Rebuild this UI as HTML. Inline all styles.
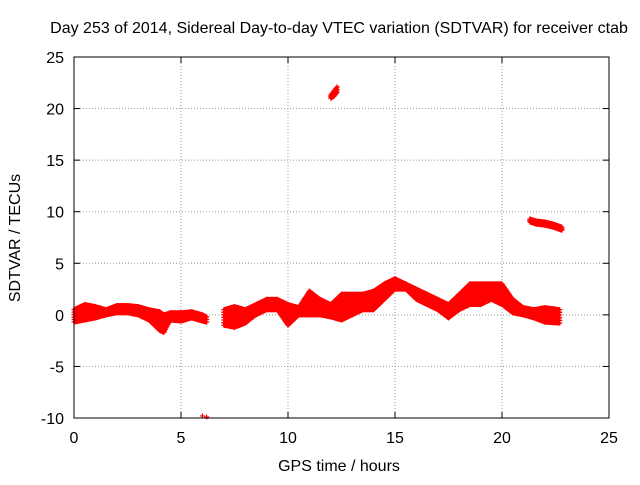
<!DOCTYPE html>
<html><head><meta charset="utf-8"><style>
body{margin:0;background:#fff}
svg text{font-family:"Liberation Sans",sans-serif;font-size:16px;fill:#000}
</style></head><body>
<svg id="c" width="640" height="480">
<rect width="640" height="480" fill="#fff"/>
<text x="339" y="33" text-anchor="middle">Day 253 of 2014, Sidereal Day-to-day VTEC variation (SDTVAR) for receiver ctab</text>
<text x="339" y="471" text-anchor="middle">GPS time / hours</text>
<text transform="translate(20,238) rotate(-90)" text-anchor="middle">SDTVAR / TECUs</text>
<g id="grid"></g><g id="ticks"></g><g id="marks"></g>
<rect x="74" y="57" width="535" height="361" fill="none" stroke="#000" stroke-width="1"/>
</svg>
<script>
const xTicks=[0,5,10,15,20,25];
const yTicks=[-10,-5,0,5,10,15,20,25];
const mainHours=[0,0.5,1,1.5,2,2.5,3,3.5,4,4.2,4.5,5,5.5,6,6.2];
const mainLows=[-0.7,-0.5,-0.3,0,0.2,0.2,0,-0.5,-1.5,-1.7,-0.5,-0.6,-0.3,-0.6,-0.7];
const mainHighs=[0.5,1.0,0.8,0.5,0.9,0.9,0.8,0.5,0.3,0,0.2,0.2,0.3,0,-0.2];
const midHours=[7,7.5,8,8.5,9,9.5,10,10.5,11,11.5,12,12.5,13,13.5,14,14.5,15,15.5,16,16.5,17,17.5,18,18.5,19,19.5,20,20.5,21,21.5,22,22.7];
const midLows=[-1,-1.2,-0.8,0,0.5,0.5,-1,0,0,0,-0.2,-0.5,0,0.5,0.5,1.5,2.5,2.5,1.5,1,0.5,-0.3,0.5,1,1,1.5,1,0.2,0,-0.3,-0.7,-0.8];
const midHighs=[0.5,0.8,0.5,1,1.5,1.5,1,0.7,2.3,1.5,1,2,2,2,2.3,3,3.5,3,2.5,2,1.5,1,2,3,3,3,3,1.5,0.7,0.5,0.7,0.5];
const hiHours=[12,12.15,12.3];
const hiLows=[21,21.2,21.6];
const hiHighs=[21.3,21.7,22.1];
const eveHours=[21.3,21.6,22,22.4,22.8];
const eveLows=[9,8.8,8.7,8.5,8.2];
const eveHighs=[9.3,9.1,9,8.8,8.5];
const outHours=[6.0,6.2];
const outVals=[-9.8,-9.9];
const X=v=>74+v*(535/25), Y=v=>418-(v+10)*(361/35);
const NS="http://www.w3.org/2000/svg";
const grid=document.getElementById('grid'),ticks=document.getElementById('ticks'),marks=document.getElementById('marks');
function el(t,a,p){const e=document.createElementNS(NS,t);for(const k in a)e.setAttribute(k,a[k]);p.appendChild(e);return e;}
xTicks.forEach(v=>{
 if(v>0&&v<25){const g=el('line',{x1:X(v),x2:X(v),y1:57,y2:418,stroke:'#999','stroke-dasharray':'1,2'},grid);
 
 }
 el('line',{x1:X(v),x2:X(v),y1:418,y2:412,stroke:'#000'},ticks);
 el('line',{x1:X(v),x2:X(v),y1:57,y2:63,stroke:'#000'},ticks);
 const t=el('text',{x:X(v),y:443,'text-anchor':'middle'},ticks);t.textContent=v;
 
 
});
yTicks.forEach(v=>{
 if(v>-10&&v<25){const g=el('line',{x1:74,x2:609,y1:Y(v),y2:Y(v),stroke:'#999','stroke-dasharray':'1,2'},grid);
 
 }
 el('line',{x1:74,x2:80,y1:Y(v),y2:Y(v),stroke:'#000'},ticks);
 el('line',{x1:609,x2:603,y1:Y(v),y2:Y(v),stroke:'#000'},ticks);
 const t=el('text',{x:64,y:Y(v)+6,'text-anchor':'end'},ticks);t.textContent=v;
 
 
});
function plus(x,y){
 const p=el('path',{d:`M${x-2.5},${y}h5M${x},${y-2.5}v5`,stroke:'#f00','stroke-width':1.2},marks);
 
 
}
function band(hs,lo,hi){
 for(let i=0;i<hs.length-1;i++){
  const steps=Math.max(2,Math.ceil((hs[i+1]-hs[i])/0.04));
  for(let s=0;s<=steps;s++){
   const f=s/steps,h=hs[i]+f*(hs[i+1]-hs[i]);
   const l=lo[i]+f*(lo[i+1]-lo[i]),u=hi[i]+f*(hi[i+1]-hi[i]);
   const y1=Y(u),y2=Y(l),n=Math.max(1,Math.ceil((y2-y1)/3));
   for(let k=0;k<=n;k++)plus(X(h),y1+(y2-y1)*k/n);
  }
 }
}
band(mainHours,mainLows,mainHighs);
band(midHours,midLows,midHighs);
band(hiHours,hiLows,hiHighs);
band(eveHours,eveLows,eveHighs);
outHours.forEach((h,i)=>plus(X(h),Y(outVals[i])));
</script>
</body></html>
